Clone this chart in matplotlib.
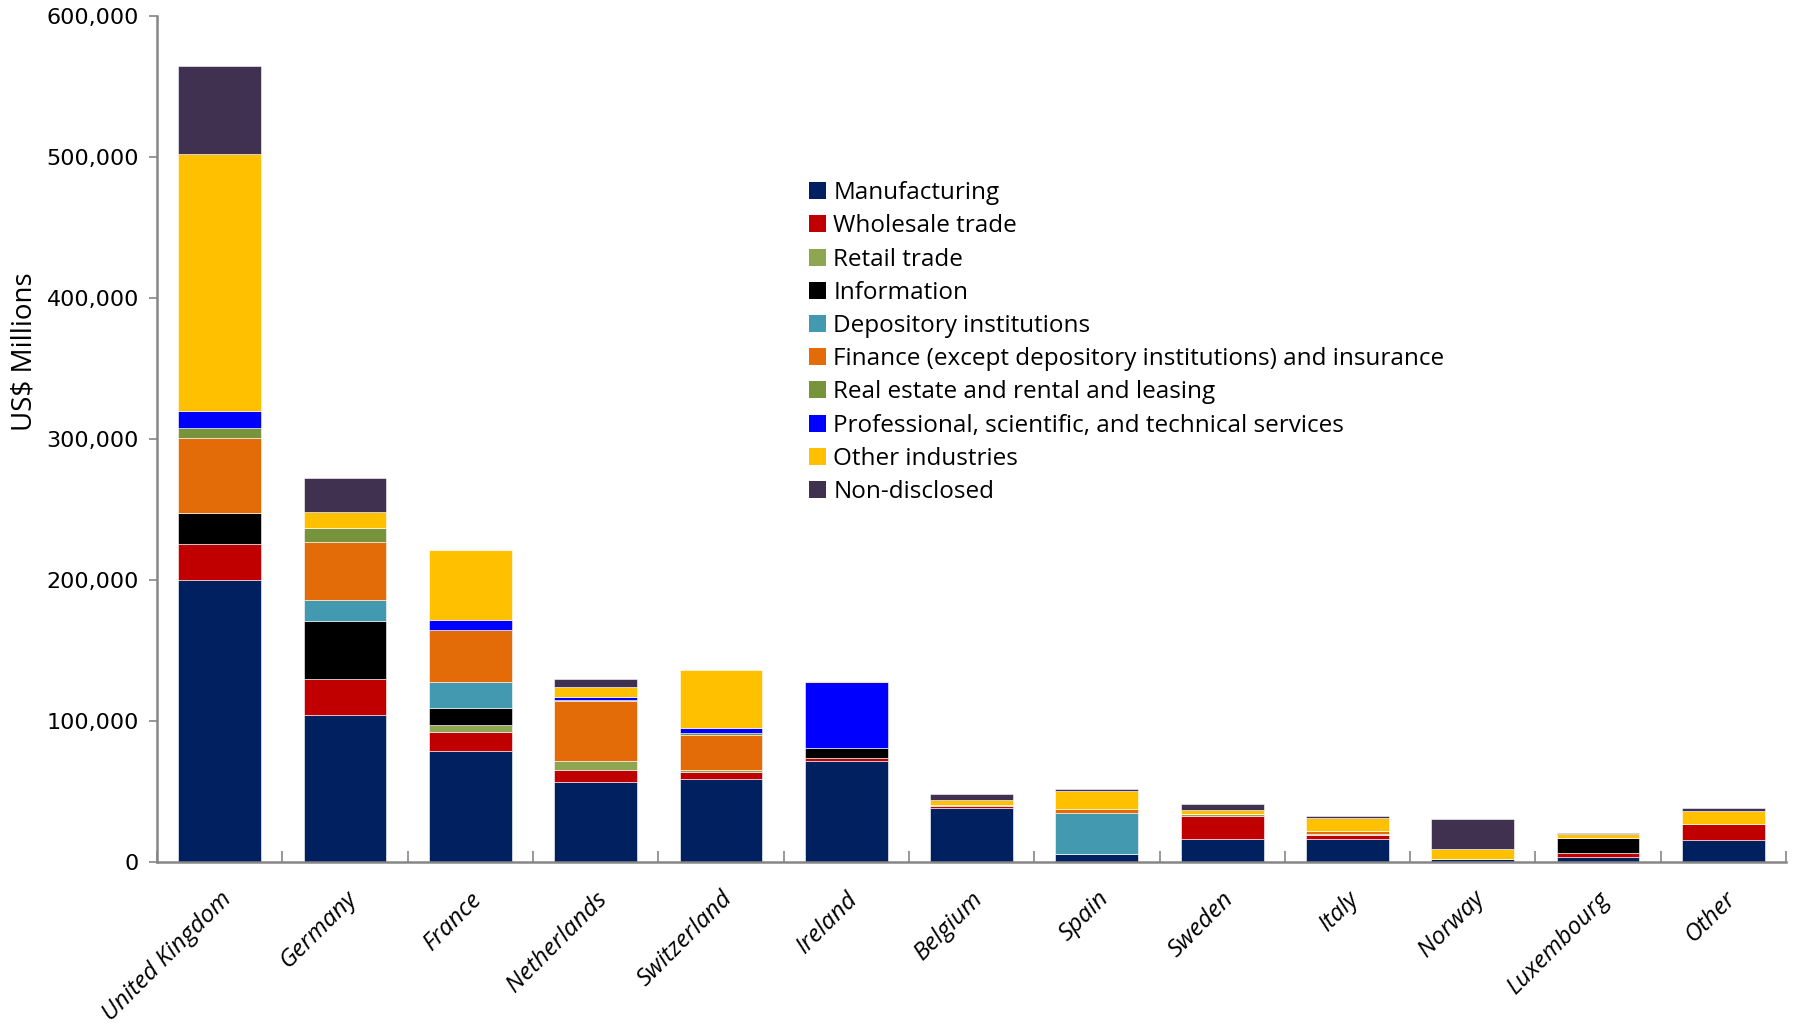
import numpy as np
import matplotlib
matplotlib.use("Agg")
import matplotlib.pyplot as plt
from matplotlib.patches import Patch
from matplotlib.ticker import FuncFormatter, FixedLocator

# ------------------------------------------------------------------
# Data (US$ millions)
# ------------------------------------------------------------------

COUNTRIES = [
    "United Kingdom", "Germany", "France", "Netherlands", "Switzerland",
    "Ireland", "Belgium", "Spain", "Sweden", "Italy", "Norway",
    "Luxembourg", "Other",
]

INDUSTRIES = [
    "Manufacturing",
    "Wholesale trade",
    "Retail trade",
    "Information",
    "Depository institutions",
    "Finance (except depository institutions) and insurance",
    "Real estate and rental and leasing",
    "Professional, scientific, and technical services",
    "Other industries",
    "Non-disclosed",
]

manufacturing = [200200, 103900, 78400, 56500, 58800, 71300, 38500, 5700, 16300, 16300, 1900, 3500, 15400]
wholesale = [25000, 26200, 13500, 8700, 4700, 2300, 1400, 0, 16500, 2600, 0, 2900, 11500]
retail = [0, 0, 5200, 6600, 1600, 0, 0, 0, 1400, 0, 0, 0, 0]
information = [22000, 40900, 12000, 0, 0, 7100, 0, 0, 0, 0, 0, 10800, 0]
depository = [0, 14600, 18800, 0, 0, 0, 0, 29300, 0, 900, 0, 0, 0]
finance = [53600, 41200, 36700, 42100, 25300, 0, 800, 2800, 0, 1900, 0, 0, 0]
real_estate = [7000, 10100, 0, 1200, 1000, 0, 0, 0, 0, 0, 0, 0, 0]
professional = [12000, 0, 6800, 1900, 3500, 46600, 0, 0, 0, 0, 0, 0, 0]
other_industries = [182000, 11600, 50200, 6800, 41600, 700, 2900, 12800, 2800, 9200, 7100, 2600, 9500]
non_disclosed = [63000, 23600, 0, 6200, -1500, 0, 4900, 1100, 3800, 1900, 21500, 1000, 1600]

SERIES = [
    manufacturing, wholesale, retail, information, depository,
    finance, real_estate, professional, other_industries, non_disclosed,
]

COLORS = [
    "#002060", "#C00000", "#8EA552", "#000000", "#4399B0",
    "#E36C09", "#77933C", "#0000FF", "#FFC000", "#403151",
]

AXIS_GREY = "#868686"

# ------------------------------------------------------------------
# Plot
# ------------------------------------------------------------------

fig = plt.figure(figsize=(17.95, 10.27), dpi=100)
ax = fig.add_axes([0.0875, 0.1607, 0.9075, 0.8237])

x = np.arange(len(COUNTRIES))
pos_bottom = np.zeros(len(COUNTRIES))
neg_bottom = np.zeros(len(COUNTRIES))

# positives stack upward, negatives stack downward from zero
for values, color in zip(SERIES, COLORS):
    vals = np.array(values, dtype=float)
    bottoms = np.where(vals >= 0, pos_bottom, neg_bottom)
    ax.bar(x, vals, width=0.66, bottom=bottoms, color=color,
           edgecolor="white", linewidth=0.4, zorder=2)
    pos_bottom += np.clip(vals, 0, None)
    neg_bottom += np.clip(vals, None, 0)

ax.set_xlim(-0.5, len(COUNTRIES) - 0.5)
ax.set_ylim(0, 600000)
ax.set_yticks(np.arange(0, 600001, 100000))
ax.yaxis.set_major_formatter(FuncFormatter(lambda v, _: f"{int(v):,}"))

for lbl in ax.get_yticklabels():
    lbl.set_fontsize(16)
    lbl.set_family("DejaVu Sans")

ax.tick_params(axis="y", direction="out", length=6, width=1.2,
               color=AXIS_GREY, pad=7)

# category labels, tick marks between categories
ax.set_xticks(x)
ax.set_xticklabels(COUNTRIES, rotation=45, ha="right",
                   rotation_mode="anchor", fontsize=17.5,
                   family="Open Sans", style="italic")
ax.tick_params(axis="x", which="major", length=0, pad=18)
ax.xaxis.set_minor_locator(FixedLocator(np.arange(-0.5, len(COUNTRIES), 1.0)))
ax.tick_params(axis="x", which="minor", direction="in", length=8,
               width=1.2, color=AXIS_GREY)

ax.set_ylabel("US$ Millions", fontsize=20, family="Open Sans", labelpad=8)
ax.yaxis.set_label_coords(-0.073, 0.603)

for side in ("top", "right"):
    ax.spines[side].set_visible(False)
for side in ("left", "bottom"):
    ax.spines[side].set_color(AXIS_GREY)
    ax.spines[side].set_linewidth(1.8)

handles = [Patch(facecolor=c, edgecolor="none") for c in COLORS]
fig.legend(
    handles,
    INDUSTRIES,
    loc="upper left",
    bbox_to_anchor=(0.4385, 0.845),
    frameon=False,
    handlelength=0.7,
    handleheight=0.7,
    handletextpad=0.3,
    labelspacing=0.38,
    prop={"family": "Open Sans", "size": 17.5},
)

fig.savefig("out.png", dpi=100)
